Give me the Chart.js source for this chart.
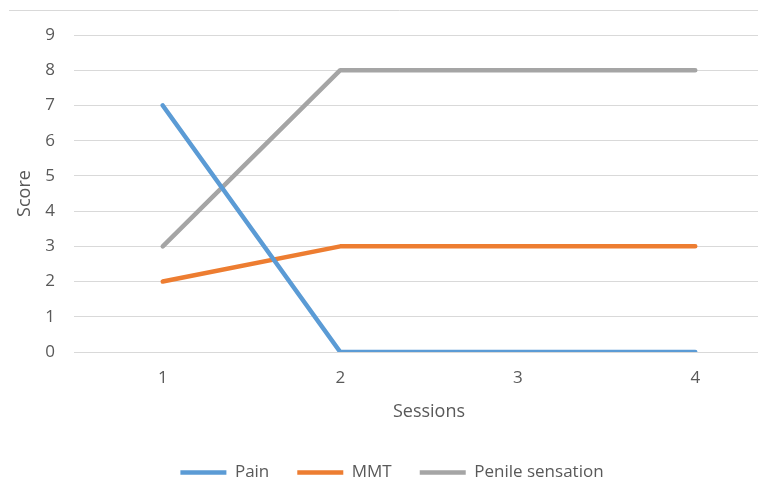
<!DOCTYPE html>
<html>
<head>
<meta charset="utf-8">
<script src="https://cdn.jsdelivr.net/npm/chart.js@4.4.0/dist/chart.umd.min.js"></script>
<style>
  html, body { margin: 0; padding: 0; background: #fff; overflow: hidden; }
  #wrap { width: 790px; height: 484px; }
</style>
</head>
<body>
<div id="wrap"><canvas id="scoreChart"></canvas></div>
<script>
const sessions = ["1", "2", "3", "4"];
const pain = [7, 0, 0, 0];
const mmt = [2, 3, 3, 3];
const penileSensation = [3, 8, 8, 8];

const gridColor = "#d9d9d9";
const textColor = "#595959";
const fontFamily = "'Open Sans', 'Noto Sans', sans-serif";

// thin gray border line across the top, like the excel chart frame
const topBorder = {
  id: "topBorder",
  beforeDraw(chart) {
    const ctx = chart.ctx;
    ctx.save();
    ctx.strokeStyle = gridColor;
    ctx.lineWidth = 1;
    ctx.beginPath();
    ctx.moveTo(9, 10.5);
    ctx.lineTo(chart.width, 10.5);
    ctx.stroke();
    ctx.restore();
  },
};

function lineSet(label, data, color) {
  return {
    label: label,
    data: data,
    borderColor: color,
    backgroundColor: color,
    borderWidth: 4.5,
    borderCapStyle: "round",
    borderJoinStyle: "round",
    pointRadius: 0,
    pointHoverRadius: 0,
    tension: 0,
  };
}

new Chart(document.getElementById("scoreChart"), {
  type: "line",
  data: {
    labels: sessions,
    datasets: [
      lineSet("Pain", pain, "#5b9bd5"),
      lineSet("MMT", mmt, "#ed7d31"),
      lineSet("Penile sensation", penileSensation, "#a5a5a5"),
    ],
  },
  options: {
    responsive: true,
    maintainAspectRatio: false,
    animation: false,
    layout: { padding: { top: 35, right: 6, left: 0, bottom: -7 } },
    scales: {
      x: {
        offset: true,
        grid: { display: false },
        border: { display: false },
        ticks: { color: textColor, font: { family: fontFamily, size: 17 }, padding: 8 },
        title: {
          display: true,
          text: "Sessions",
          color: textColor,
          font: { family: fontFamily, size: 18 },
          padding: { top: 0, bottom: 13 },
        },
        afterFit(scale) { scale.height = 84; },
      },
      y: {
        min: 0,
        max: 9,
        grid: { color: gridColor, drawTicks: false },
        border: { display: false },
        ticks: { stepSize: 1, color: textColor, font: { family: fontFamily, size: 17 }, padding: 19 },
        title: {
          display: true,
          text: "Score",
          color: textColor,
          font: { family: fontFamily, size: 18 },
          padding: { top: 14, bottom: 0 },
        },
        afterFit(scale) { scale.width = 74; },
      },
    },
    plugins: {
      legend: {
        position: "bottom",
        labels: {
          color: textColor,
          font: { family: fontFamily, size: 17 },
          usePointStyle: true,
          pointStyle: "line",
          pointStyleWidth: 46,
          padding: 28,
        },
      },
      tooltip: { enabled: false },
    },
  },
  plugins: [topBorder],
});
</script>
</body>
</html>
